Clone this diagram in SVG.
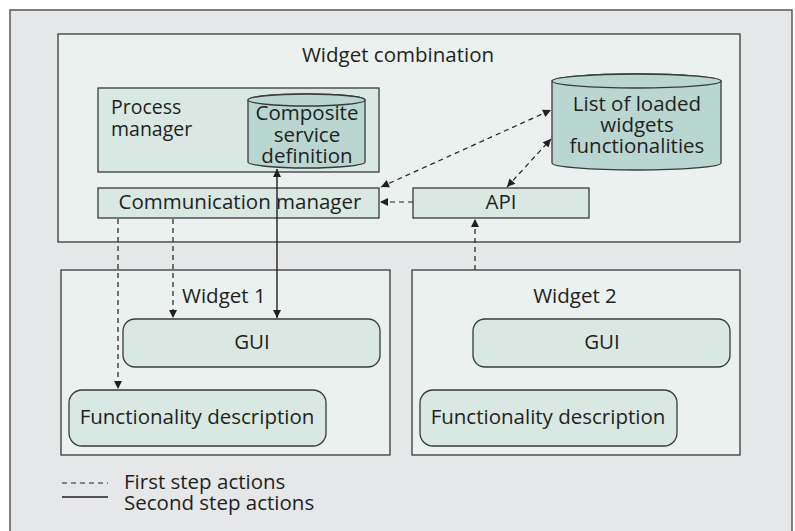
<svg xmlns="http://www.w3.org/2000/svg" width="795" height="531" viewBox="0 0 795 531">
  <defs>
    <marker id="arrow" viewBox="0 0 10 10" refX="10" refY="5" markerWidth="9" markerHeight="8" markerUnits="userSpaceOnUse" orient="auto-start-reverse">
      <path d="M0,0 L10,5 L0,10 z" fill="#231f20"/>
    </marker>
  </defs>
  <style>
    text { font-family: "Open Sans", "Noto Sans", "DejaVu Sans", sans-serif; fill: #231f20; font-size: 20.5px; }
    .frame { fill: #e6e7e8; stroke: #58595b; stroke-width: 1.5; }
    .panel { fill: #eaf1ef; stroke: #3a3a3a; stroke-width: 1.3; }
    .box { fill: #d9e8e3; stroke: #3a3a3a; stroke-width: 1.3; }
    .drum { fill: #b9d6d1; stroke: #3a3a3a; stroke-width: 1.3; }
    .dash { fill: none; stroke: #231f20; stroke-width: 1.2; stroke-dasharray: 5 4; }
    .solid { fill: none; stroke: #231f20; stroke-width: 1.4; }
    .c { text-anchor: middle; }
  </style>

  <rect width="795" height="531" fill="#ffffff"/>
  <rect class="frame" x="10" y="10" width="782" height="530"/>

  <g id="widget-combination">
    <rect class="panel" x="58" y="34" width="682" height="208"/>
    <text class="c" x="398" y="62">Widget combination</text>
  </g>

  <g id="process-manager">
    <rect class="box" x="98" y="88" width="281" height="84"/>
    <text x="111" y="114" style="font-size:19.5px">Process</text>
    <text x="111" y="136" style="font-size:19.5px">manager</text>
  </g>

  <g id="composite-service-definition">
    <path class="drum" d="M248,100 L248,162 A58.5,6 0 0 0 365,162 L365,100 A58.5,6 0 0 0 248,100 z"/>
    <ellipse class="drum" cx="306.5" cy="100" rx="58.5" ry="6"/>
    <text class="c" x="307" y="120">Composite</text>
    <text class="c" x="307" y="142">service</text>
    <text class="c" x="307" y="163">definition</text>
  </g>

  <g id="communication-manager">
    <rect class="box" x="98" y="188" width="281" height="30"/>
    <text class="c" x="240" y="209">Communication manager</text>
  </g>

  <g id="api">
    <rect class="box" x="413" y="188" width="176" height="30"/>
    <text class="c" x="501" y="209">API</text>
  </g>

  <g id="loaded-widgets-list">
    <path class="drum" d="M552,81 L552,163 A84.5,7 0 0 0 721,163 L721,81 A84.5,7 0 0 0 552,81 z"/>
    <ellipse class="drum" cx="636.5" cy="81" rx="84.5" ry="7"/>
    <text class="c" x="637" y="111">List of loaded</text>
    <text class="c" x="637" y="132">widgets</text>
    <text class="c" x="637" y="153">functionalities</text>
  </g>

  <g id="widget-1">
    <rect class="panel" x="61" y="270" width="329" height="185"/>
    <text x="182" y="303">Widget 1</text>
  </g>

  <g id="widget-1-gui">
    <rect class="box" x="123" y="319" width="257" height="48" rx="12"/>
    <text class="c" x="252" y="349">GUI</text>
  </g>

  <g id="widget-1-functionality">
    <rect class="box" x="69" y="390" width="257" height="56" rx="13"/>
    <text class="c" x="197" y="424">Functionality description</text>
  </g>

  <g id="widget-2">
    <rect class="panel" x="412" y="270" width="328" height="185"/>
    <text class="c" x="575" y="303">Widget 2</text>
  </g>

  <g id="widget-2-gui">
    <rect class="box" x="473" y="319" width="257" height="48" rx="12"/>
    <text class="c" x="602" y="349">GUI</text>
  </g>

  <g id="widget-2-functionality">
    <rect class="box" x="420" y="390" width="257" height="56" rx="13"/>
    <text class="c" x="548" y="424">Functionality description</text>
  </g>

  <g id="connectors">
    <!-- first step: communication manager to widget 1 -->
    <line class="dash" x1="118" y1="219" x2="118" y2="389" marker-end="url(#arrow)"/>
    <line class="dash" x1="173" y1="219" x2="173" y2="318" marker-end="url(#arrow)"/>
    <!-- second step: composite definition to widget 1 GUI -->
    <line class="solid" x1="277" y1="169" x2="277" y2="318" marker-start="url(#arrow)" marker-end="url(#arrow)"/>
    <!-- loaded widgets list exchanges -->
    <line class="dash" x1="381" y1="187" x2="551" y2="110" marker-start="url(#arrow)" marker-end="url(#arrow)"/>
    <line class="dash" x1="507" y1="187" x2="551" y2="139" marker-start="url(#arrow)" marker-end="url(#arrow)"/>
    <line class="dash" x1="413" y1="202" x2="380" y2="202" marker-end="url(#arrow)"/>
    <!-- widget 2 registers with the API -->
    <line class="dash" x1="475" y1="270" x2="475" y2="219" marker-end="url(#arrow)"/>
  </g>

  <g id="legend">
    <line class="dash" x1="62" y1="483" x2="108" y2="483" stroke-dasharray="4 3"/>
    <text x="124" y="489">First step actions</text>
    <line class="solid" x1="62" y1="497" x2="108" y2="497" stroke-width="1.2"/>
    <text x="124" y="510">Second step actions</text>
  </g>
</svg>
